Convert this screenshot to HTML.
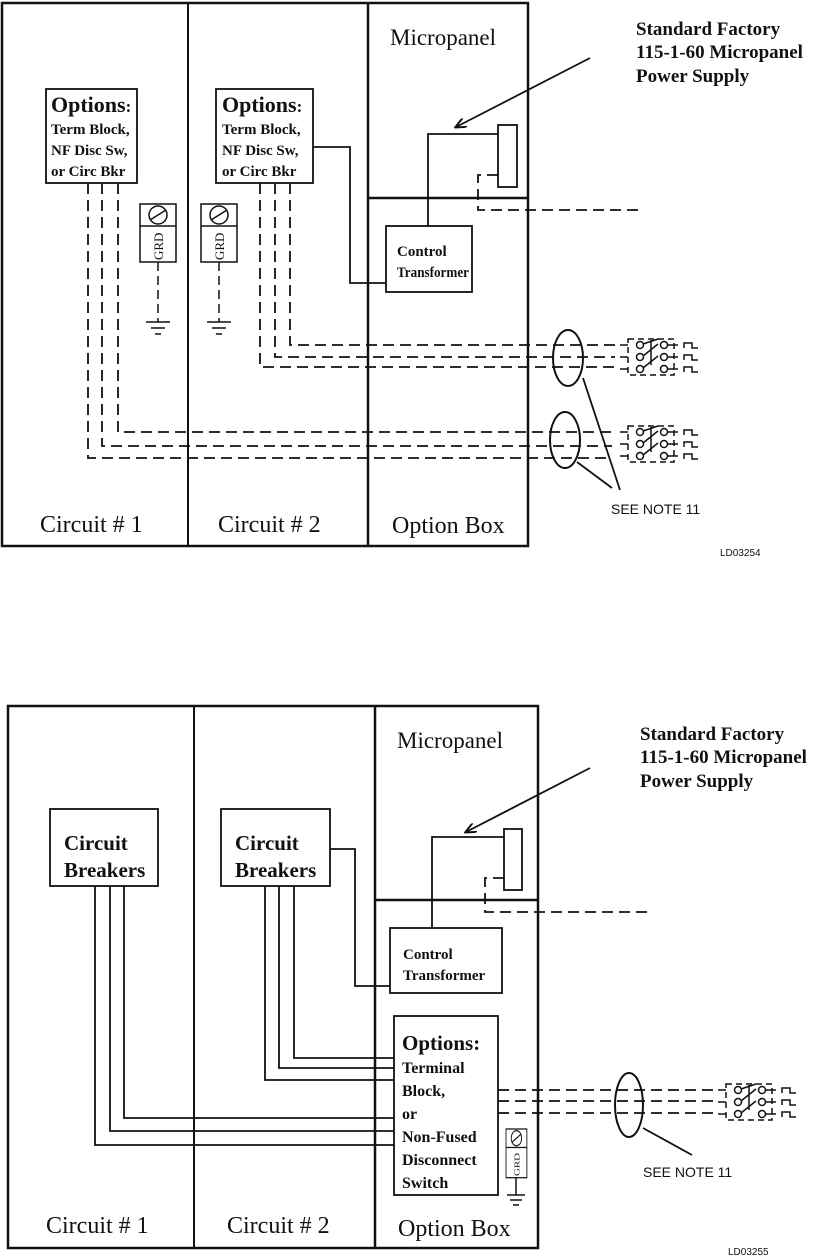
<!DOCTYPE html>
<html><head><meta charset="utf-8"><style>
html,body{margin:0;padding:0;background:#fff;}
svg{display:block}
.s{font-family:"Liberation Serif",serif;fill:#111}
.b{font-family:"Liberation Serif",serif;font-weight:bold;fill:#111}
.a{font-family:"Liberation Sans",sans-serif;fill:#111}
</style></head><body>
<svg width="815" height="1258" viewBox="0 0 815 1258" xmlns="http://www.w3.org/2000/svg">
<defs>
<marker id="ar" markerWidth="12" markerHeight="10" refX="10" refY="5" orient="auto" markerUnits="userSpaceOnUse">
<path d="M0,0 L11,5 L0,10" fill="none" stroke="#111" stroke-width="2"/>
</marker>
<g id="sw">
<rect x="0" y="-6" width="46" height="36" fill="none" stroke="#111" stroke-width="1.5" stroke-dasharray="6,4"/>
<circle cx="12" cy="0" r="3.5" fill="#fff" stroke="#111" stroke-width="1.5"/>
<circle cx="12" cy="12" r="3.5" fill="#fff" stroke="#111" stroke-width="1.5"/>
<circle cx="12" cy="24" r="3.5" fill="#fff" stroke="#111" stroke-width="1.5"/>
<circle cx="36" cy="0" r="3.5" fill="#fff" stroke="#111" stroke-width="1.5"/>
<circle cx="36" cy="12" r="3.5" fill="#fff" stroke="#111" stroke-width="1.5"/>
<circle cx="36" cy="24" r="3.5" fill="#fff" stroke="#111" stroke-width="1.5"/>
<path d="M15,-1 L30,-6 M15,11 L30,-1 M15,23 L30,11 M23,-5 L23,20" fill="none" stroke="#111" stroke-width="1.5"/>
<path d="M-8,0 H0 M-8,12 H0 M-8,24 H0 M40,0 H50 M40,12 H50 M40,24 H50" stroke="#111" stroke-width="1.5"/>
<path d="M56,3 V-2 H64 V3 H70 M56,15 V10 H64 V15 H70 M56,27 V22 H64 V27 H70" fill="none" stroke="#111" stroke-width="1.5"/>
</g>
<g id="grd">
<rect x="0" y="0" width="36" height="58" fill="#fff" stroke="#111" stroke-width="1.5"/>
<line x1="0" y1="22" x2="36" y2="22" stroke="#111" stroke-width="1.5"/>
<circle cx="18" cy="11" r="9" fill="none" stroke="#111" stroke-width="1.5"/>
<line x1="10" y1="16" x2="26" y2="6" stroke="#111" stroke-width="1.5"/>
<text x="0" y="0" class="s" font-size="13" transform="translate(23,56) rotate(-90)">GRD</text>
</g>
</defs>

<!-- ========== TOP DIAGRAM ========== -->
<g stroke="#111" fill="none">
<rect x="2" y="3" width="526" height="543" stroke-width="2.5"/>
<line x1="188" y1="3" x2="188" y2="546" stroke-width="2"/>
<line x1="368" y1="3" x2="368" y2="546" stroke-width="2.5"/>
<line x1="368" y1="198" x2="528" y2="198" stroke-width="2.5"/>
<rect x="46" y="89" width="91" height="94" stroke-width="1.8"/>
<rect x="216" y="89" width="97" height="94" stroke-width="1.8"/>
<rect x="386" y="226" width="86" height="66" stroke-width="1.8"/>
<rect x="498" y="125" width="19" height="62" stroke-width="1.8"/>
<path d="M428,226 V134 H498" stroke-width="1.8"/>
<path d="M313,147 H350 V283 H386" stroke-width="1.8"/>
<path d="M498,175 H478 V210 H640" stroke-width="1.8" stroke-dasharray="11,6"/>
<line x1="590" y1="58" x2="456" y2="127" stroke-width="1.8" marker-end="url(#ar)"/>
<g stroke-width="1.8" stroke-dasharray="11,6">
<path d="M88,183 V458 H612"/>
<path d="M102,183 V446 H612"/>
<path d="M118,183 V432 H612"/>
<path d="M260,183 V367 H615"/>
<path d="M275,183 V357 H615"/>
<path d="M290,183 V345 H615"/>
</g>
<ellipse cx="568" cy="358" rx="15" ry="28" stroke-width="2"/>
<ellipse cx="565" cy="440" rx="15" ry="28" stroke-width="2"/>
<path d="M583,378 L620,490 M577,462 L612,488" stroke-width="1.8"/>
<path d="M158,262 V320 M219,262 V320" stroke-width="1.5" stroke-dasharray="9,5"/>
<path d="M146,322 H170 M151,328 H165 M155,334 H161 M207,322 H231 M212,328 H226 M216,334 H222" stroke-width="1.5"/>
<path d="M158,320 V322 M219,320 V322" stroke-width="1.5"/>
</g>
<use href="#grd" x="140" y="204"/>
<use href="#grd" x="201" y="204"/>
<use href="#sw" x="628" y="345"/>
<use href="#sw" x="628" y="432"/>

<text x="390" y="45" class="s" font-size="23">Micropanel</text>
<text x="636" y="35" class="b" font-size="19">Standard Factory</text>
<text x="636" y="58" class="b" font-size="19">115-1-60 Micropanel</text>
<text x="636" y="82" class="b" font-size="19">Power Supply</text>
<text x="51" y="112" class="b" font-size="22">Options<tspan font-size="17">:</tspan></text>
<text x="51" y="134" class="b" font-size="15">Term Block,</text>
<text x="51" y="155" class="b" font-size="15">NF Disc Sw,</text>
<text x="51" y="176" class="b" font-size="15">or Circ Bkr</text>
<text x="222" y="112" class="b" font-size="22">Options<tspan font-size="17">:</tspan></text>
<text x="222" y="134" class="b" font-size="15">Term Block,</text>
<text x="222" y="155" class="b" font-size="15">NF Disc Sw,</text>
<text x="222" y="176" class="b" font-size="15">or Circ Bkr</text>
<text x="397" y="256" class="b" font-size="15">Control</text>
<text x="397" y="277" class="b" font-size="15" textLength="72" lengthAdjust="spacingAndGlyphs">Transformer</text>
<text x="40" y="532" class="s" font-size="24">Circuit # 1</text>
<text x="218" y="532" class="s" font-size="24">Circuit # 2</text>
<text x="392" y="533" class="s" font-size="24">Option Box</text>
<text x="611" y="514" class="a" font-size="14">SEE NOTE 11</text>
<text x="720" y="556" class="a" font-size="10">LD03254</text>

<!-- ========== BOTTOM DIAGRAM ========== -->
<g stroke="#111" fill="none">
<rect x="8" y="706" width="530" height="542" stroke-width="2.5"/>
<line x1="194" y1="706" x2="194" y2="1248" stroke-width="2"/>
<line x1="375" y1="706" x2="375" y2="1248" stroke-width="2.5"/>
<line x1="375" y1="900" x2="538" y2="900" stroke-width="2.5"/>
<rect x="50" y="809" width="108" height="77" stroke-width="1.8"/>
<rect x="221" y="809" width="109" height="77" stroke-width="1.8"/>
<rect x="390" y="928" width="112" height="65" stroke-width="1.8"/>
<rect x="394" y="1016" width="104" height="179" stroke-width="1.8"/>
<rect x="504" y="829" width="18" height="61" stroke-width="1.8"/>
<path d="M432,928 V837 H504" stroke-width="1.8"/>
<path d="M330,849 H355 V986 H390" stroke-width="1.8"/>
<path d="M504,878 H485 V912 H650" stroke-width="1.8" stroke-dasharray="11,6"/>
<line x1="590" y1="768" x2="466" y2="832" stroke-width="1.8" marker-end="url(#ar)"/>
<g stroke-width="1.8">
<path d="M95,886 V1145 H394"/>
<path d="M110,886 V1131 H394"/>
<path d="M124,886 V1118 H394"/>
<path d="M265,886 V1080 H394"/>
<path d="M279,886 V1068 H394"/>
<path d="M294,886 V1058 H394"/>
</g>
<g stroke-width="1.8" stroke-dasharray="11,6">
<path d="M498,1090 H718"/>
<path d="M498,1101 H718"/>
<path d="M498,1113 H718"/>
</g>
<ellipse cx="629" cy="1105" rx="14" ry="32" stroke-width="2"/>
<path d="M643,1128 L692,1155" stroke-width="1.8"/>
<path d="M516,1178 V1195 M507,1195 H525 M510,1200 H522 M513,1205 H519" stroke-width="1.5"/>
</g>
<g transform="translate(506,1129) scale(0.58,0.84)"><use href="#grd"/></g>
<use href="#sw" x="726" y="1090"/>

<text x="397" y="748" class="s" font-size="23">Micropanel</text>
<text x="640" y="740" class="b" font-size="19">Standard Factory</text>
<text x="640" y="763" class="b" font-size="19">115-1-60 Micropanel</text>
<text x="640" y="787" class="b" font-size="19">Power Supply</text>
<text x="64" y="850" class="b" font-size="21">Circuit</text>
<text x="64" y="877" class="b" font-size="21">Breakers</text>
<text x="235" y="850" class="b" font-size="21">Circuit</text>
<text x="235" y="877" class="b" font-size="21">Breakers</text>
<text x="403" y="959" class="b" font-size="15">Control</text>
<text x="403" y="980" class="b" font-size="15">Transformer</text>
<text x="402" y="1050" class="b" font-size="21">Options:</text>
<text x="402" y="1073" class="b" font-size="16">Terminal</text>
<text x="402" y="1096" class="b" font-size="16">Block,</text>
<text x="402" y="1119" class="b" font-size="16">or</text>
<text x="402" y="1142" class="b" font-size="16">Non-Fused</text>
<text x="402" y="1165" class="b" font-size="16">Disconnect</text>
<text x="402" y="1188" class="b" font-size="16">Switch</text>
<text x="46" y="1233" class="s" font-size="24">Circuit # 1</text>
<text x="227" y="1233" class="s" font-size="24">Circuit # 2</text>
<text x="398" y="1236" class="s" font-size="24">Option Box</text>
<text x="643" y="1177" class="a" font-size="14">SEE NOTE 11</text>
<text x="728" y="1255" class="a" font-size="10">LD03255</text>
</svg>
</body></html>
